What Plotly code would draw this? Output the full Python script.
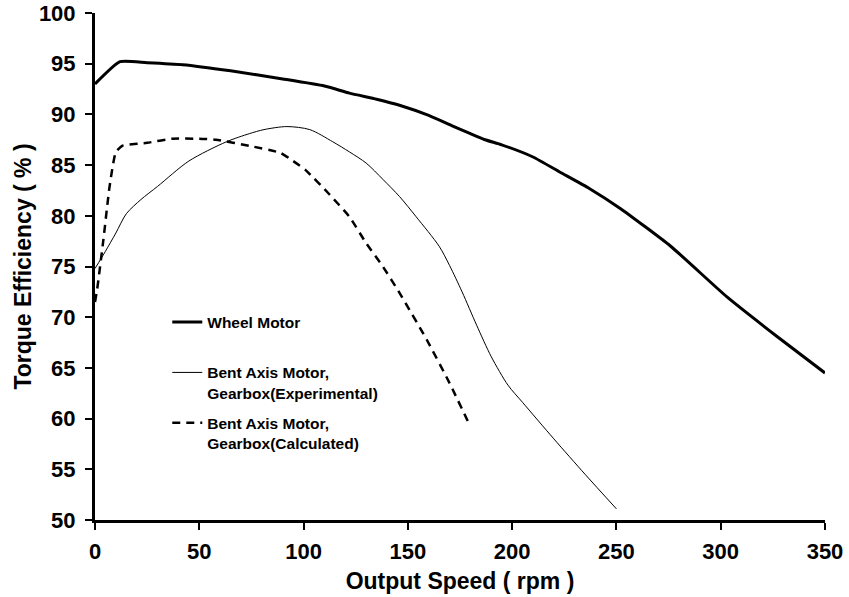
import plotly.graph_objects as go

# Wheel Motor (thick solid)
wheel_x = [0, 12, 25, 42, 65, 90, 110, 122, 135, 146, 160, 171, 180, 187, 195, 210, 223, 237, 252, 276, 303, 327, 350]
wheel_y = [93.0, 95.2, 95.1, 94.9, 94.3, 93.5, 92.8, 92.1, 91.5, 90.9, 89.9, 88.9, 88.1, 87.5, 87.0, 85.8, 84.3, 82.7, 80.7, 77.0, 72.0, 68.1, 64.5]

# Bent Axis Motor, Gearbox (Experimental) (thin solid)
exp_x = [0, 5, 10, 15, 22, 30, 45, 63, 74, 81, 92, 103, 114, 122, 130, 138, 146, 154, 165, 170, 176, 183, 190, 198, 205, 220, 235, 250]
exp_y = [74.8, 76.5, 78.3, 80.2, 81.6, 82.9, 85.4, 87.3, 88.1, 88.5, 88.8, 88.5, 87.3, 86.3, 85.2, 83.6, 81.9, 79.9, 77.0, 75.1, 72.5, 69.2, 66.1, 63.3, 61.6, 58.0, 54.5, 51.1]

# Bent Axis Motor, Gearbox (Calculated) (dashed)
calc_x = [0, 1, 4, 7, 10, 13, 15, 25, 37, 50, 58, 74, 89, 95, 101, 112, 122, 130, 138, 146, 159, 170, 180]
calc_y = [71.5, 72.7, 77.6, 82.9, 86.3, 86.9, 87.0, 87.2, 87.6, 87.6, 87.5, 86.9, 86.2, 85.4, 84.5, 82.2, 79.9, 77.3, 75.0, 72.4, 67.8, 63.5, 59.2]

x_ticks = [0, 50, 100, 150, 200, 250, 300, 350]
y_ticks = [50, 55, 60, 65, 70, 75, 80, 85, 90, 95, 100]

names = ["Wheel Motor<br>&nbsp;", "Bent Axis Motor,<br>Gearbox(Experimental)", "Bent Axis Motor,<br>Gearbox(Calculated)"]

FONT = "Liberation Sans, Arial, sans-serif"

fig = go.Figure()
fig.add_trace(go.Scatter(x=wheel_x, y=wheel_y, mode="lines", name=names[0], legendgroup="g1",
                         line=dict(color="black", width=3, shape="spline", smoothing=0.5)))
fig.add_trace(go.Scatter(x=exp_x, y=exp_y, mode="lines", name=names[1], legendgroup="g2",
                         line=dict(color="black", width=1, shape="spline", smoothing=0.8)))
fig.add_trace(go.Scatter(x=calc_x, y=calc_y, mode="lines", name=names[2], legendgroup="g3",
                         line=dict(color="black", width=2.5, dash="8px,6px", shape="spline", smoothing=0.5)))

fig.update_layout(
    width=849, height=597,
    margin=dict(l=95, r=24, t=13, b=77),
    paper_bgcolor="white", plot_bgcolor="white",
    font=dict(family=FONT, color="black"),
    showlegend=True,
    legend=dict(x=0.099, y=0.423, xanchor="left", yanchor="top",
                bgcolor="rgba(0,0,0,0)", tracegroupgap=7, valign="top",
                font=dict(family=FONT, size=15.5, color="black", weight="bold")),
    xaxis=dict(range=[0, 350], tickvals=x_ticks, ticktext=[str(v) for v in x_ticks],
               automargin=False, ticklabeloverflow="allow",
               showgrid=False, zeroline=False, showline=True, linecolor="black", linewidth=3,
               ticks="outside", ticklen=7, tickwidth=2, tickcolor="black", ticklabelstandoff=3,
               tickfont=dict(family=FONT, size=22, color="black", weight="bold"),
               title=dict(text="Output Speed ( rpm )", standoff=10,
                          font=dict(family=FONT, size=23, color="black", weight="bold"))),
    yaxis=dict(range=[50, 100], tickvals=y_ticks, ticktext=[str(v) for v in y_ticks],
               automargin=False, ticklabeloverflow="allow",
               showgrid=False, zeroline=False, showline=True, linecolor="black", linewidth=3,
               ticks="outside", ticklen=7, tickwidth=2, tickcolor="black", ticklabelstandoff=5,
               tickfont=dict(family=FONT, size=22, color="black", weight="bold"),
               title=dict(text="Torque Efficiency ( % )", standoff=1,
                          font=dict(family=FONT, size=23, color="black", weight="bold"))),
)

fig.write_html("out.html", config={"displayModeBar": False},
               post_script="document.body.style.margin='0';")
